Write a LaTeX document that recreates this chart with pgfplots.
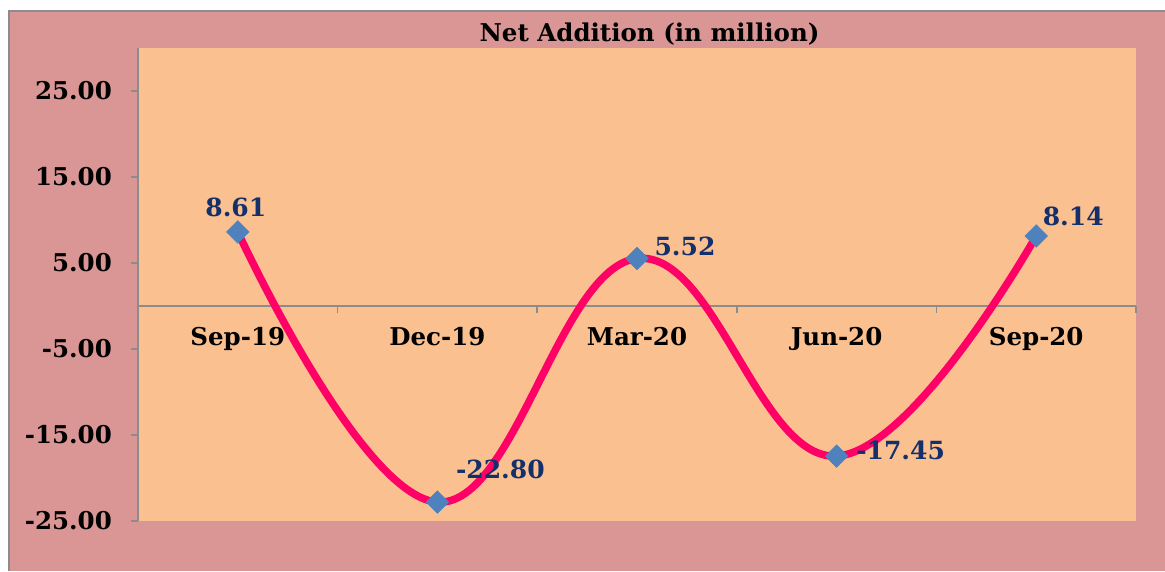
\documentclass[border=0pt]{standalone}
\usepackage{pgfplots}
\pgfplotsset{compat=1.18}
\usepackage{fontspec}
\setmainfont{DejaVu Serif}
\definecolor{outerbg}{HTML}{D99694}
\definecolor{plotbg}{HTML}{FAC090}
\definecolor{linecol}{HTML}{FF0066}
\definecolor{markcol}{HTML}{4F81BD}
\definecolor{labcol}{HTML}{14306A}
\definecolor{axgray}{HTML}{8C8C8C}
\pgfplotstableread{
x y lab dx dy
0 8.61 8.61 -2 25
1 -22.80 -22.80 63 33
2 5.52 5.52 48 12
3 -17.45 -17.45 64 6
4 8.14 8.14 37 20
}\netadd
\begin{document}
\begin{tikzpicture}
\useasboundingbox (-138pt,-50pt) rectangle (1027pt,521pt);
\fill[white] (-138pt,-50pt) rectangle (1027pt,521pt);
\fill[outerbg] (-129pt,-50pt) rectangle (1027pt,510pt);
\draw[axgray, line width=2pt] (-129pt,-50pt) -- (-129pt,510pt) -- (1027pt,510pt);
\node[anchor=base, inner sep=0pt, font=\bfseries\fontsize{24.5}{24.5}\selectfont] at (511.5pt,479pt) {Net Addition (in million)};
\begin{axis}[
 at={(0pt,0pt)}, anchor=south west,
 scale only axis, width=998pt, height=473pt,
 xmin=-0.5, xmax=4.5, ymin=-25, ymax=30,
 axis background/.style={fill=plotbg},
 axis x line=middle, axis y line=left,
 axis line style={-, draw=axgray, line width=1.5pt},
 xtick={0,...,4}, xticklabels={Sep-19,Dec-19,Mar-20,Jun-20,Sep-20},
 ytick={-25,-15,-5,5,15,25},
 yticklabels={-25.00,-15.00,-5.00,5.00,15.00,25.00},
 minor xtick={-0.5,0.5,1.5,2.5,3.5,4.5},
 minor ytick={-25,-15,-5,5,15,25},
 major tick length=0pt, minor tick length=7pt,
 tick align=outside,
 minor tick style={draw=axgray, line width=1.5pt},
 ticklabel style={font=\bfseries\fontsize{24.5}{24.5}\selectfont, text=black, inner sep=0pt},
 xticklabel style={anchor=base, yshift=-39pt},
 yticklabel style={anchor=east, xshift=-26pt},
 clip=false,
]
\addplot[smooth, tension=0.7, line width=7.5pt, color=linecol,
  mark=square*, mark size=8pt,
  mark options={rotate=45, fill=markcol, draw=markcol, line width=0.5pt},
  nodes near coords, point meta=explicit symbolic,
  visualization depends on={\thisrow{dx}\as\dx},
  visualization depends on={\thisrow{dy}\as\dy},
  every node near coord/.append style={anchor=center, xshift=\dx pt, yshift=\dy pt,
    font=\bfseries\fontsize{25}{25}\selectfont, text=labcol, inner sep=0pt}]
  table[x=x, y=y, meta=lab] {\netadd};
\end{axis}
\end{tikzpicture}
\end{document}
